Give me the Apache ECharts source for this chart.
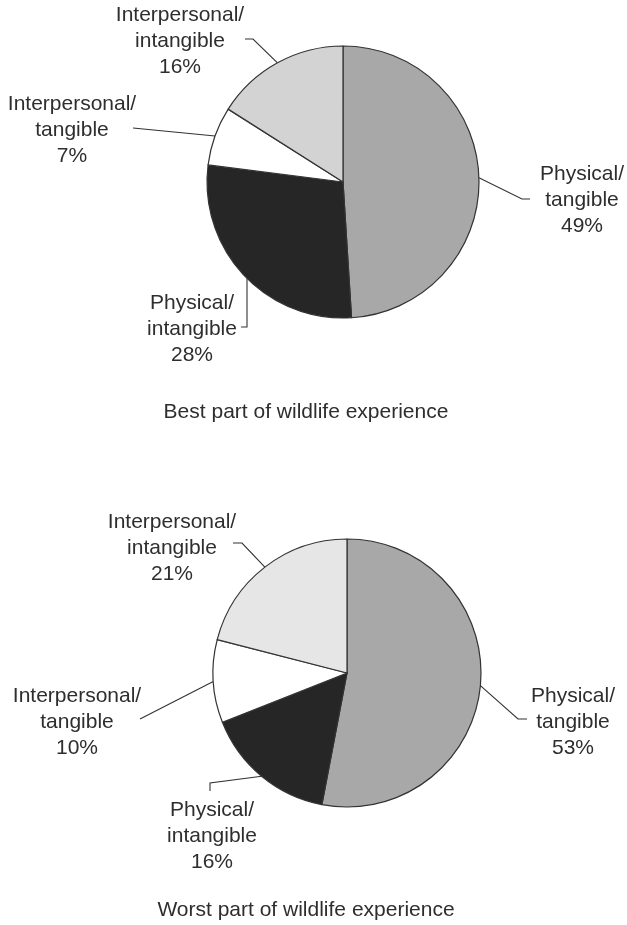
<!DOCTYPE html>
<html>
<head>
<meta charset="utf-8">
<script src="https://cdn.jsdelivr.net/npm/echarts@6/dist/echarts.min.js"></script>
<style>
  html, body { margin: 0; padding: 0; background: #ffffff; }
  #chart { width: 627px; height: 925px; }
</style>
</head>
<body>
<div id="chart"></div>
<script>
// Share of responses by category, clockwise from 12 o'clock
const categories = ['Physical/tangible', 'Physical/intangible', 'Interpersonal/tangible', 'Interpersonal/intangible'];
const bestValues = [49, 28, 7, 16];
const worstValues = [53, 16, 10, 21];
const chartTitles = ['Best part of wildlife experience', 'Worst part of wildlife experience'];

// Fill colours per slice
const bestColors = ['#a8a8a8', '#262626', '#ffffff', '#d3d3d3'];
const worstColors = ['#a8a8a8', '#262626', '#ffffff', '#e6e6e6'];

// Pie geometry
const pies = [
  { center: [343, 182], radius: 136, titleY: 397 },
  { center: [347, 673], radius: 134, titleY: 895 }
];

// Label block centres and the bends of each leader line (after the rim point).
// "drop" means the leader leaves the rim straight above its first bend.
const labelPlacement = [
  [
    { x: 582, y: 200, bend: [[522, 199], [530, 199]] },
    { x: 192, y: 329, bend: [[247, 327], [241, 327]], drop: true },
    { x: 72,  y: 130, bend: [[133, 128]] },
    { x: 180, y: 41,  bend: [[253, 39], [245, 39]] }
  ],
  [
    { x: 573, y: 722, bend: [[518, 719], [527, 719]] },
    { x: 212, y: 836, bend: [[210, 783], [210, 791]] },
    { x: 77,  y: 722, bend: [[140, 719]] },
    { x: 172, y: 548, bend: [[242, 543], [233, 543]] }
  ]
];

const FONT = '"Liberation Sans", Arial, Helvetica, sans-serif';
const TEXT_COLOR = '#2e2e2e';

function rimPoint(values, idx, pie, spot) {
  if (spot.drop) {
    const x = spot.bend[0][0];
    const dx = x - pie.center[0];
    return [x, pie.center[1] + Math.sqrt(pie.radius * pie.radius - dx * dx)];
  }
  const total = values.reduce((a, b) => a + b, 0);
  let before = 0;
  for (let i = 0; i < idx; i++) before += values[i];
  const ang = ((before + values[idx] / 2) / total) * 2 * Math.PI; // clockwise from top
  return [pie.center[0] + pie.radius * Math.sin(ang), pie.center[1] - pie.radius * Math.cos(ang)];
}

function makeSeries(values, colors, pieIdx) {
  const pie = pies[pieIdx];
  return {
    type: 'pie',
    center: pie.center,
    radius: pie.radius,
    startAngle: 90,
    clockwise: true,
    avoidLabelOverlap: false,
    silent: true,
    animation: false,
    data: categories.map((name, i) => ({
      name: name,
      value: values[i],
      itemStyle: { color: colors[i] }
    })),
    itemStyle: { borderColor: '#333333', borderWidth: 1.2 },
    label: {
      show: true,
      position: 'outside',
      fontFamily: FONT,
      fontSize: 21,
      lineHeight: 26,
      color: TEXT_COLOR,
      align: 'center',
      formatter: p => p.name.replace('/', '/\n') + '\n' + p.value + '%'
    },
    labelLine: {
      show: true,
      length: 10,
      length2: 10,
      smooth: false,
      lineStyle: { color: '#333333', width: 1.1 }
    },
    labelLayout: function (params) {
      const spot = labelPlacement[pieIdx][params.dataIndex];
      const rim = rimPoint(values, params.dataIndex, pie, spot);
      return {
        x: spot.x,
        y: spot.y,
        align: 'center',
        verticalAlign: 'middle',
        labelLinePoints: [rim].concat(spot.bend)
      };
    }
  };
}

const chart = echarts.init(document.getElementById('chart'), null, { renderer: 'canvas' });
chart.setOption({
  backgroundColor: '#ffffff',
  animation: false,
  title: chartTitles.map((t, i) => ({
    text: t,
    left: 301,
    top: pies[i].titleY,
    textAlign: 'center',
    textStyle: { fontFamily: FONT, fontSize: 21, fontWeight: 'normal', color: TEXT_COLOR }
  })),
  series: [
    makeSeries(bestValues, bestColors, 0),
    makeSeries(worstValues, worstColors, 1)
  ]
});
</script>
</body>
</html>
